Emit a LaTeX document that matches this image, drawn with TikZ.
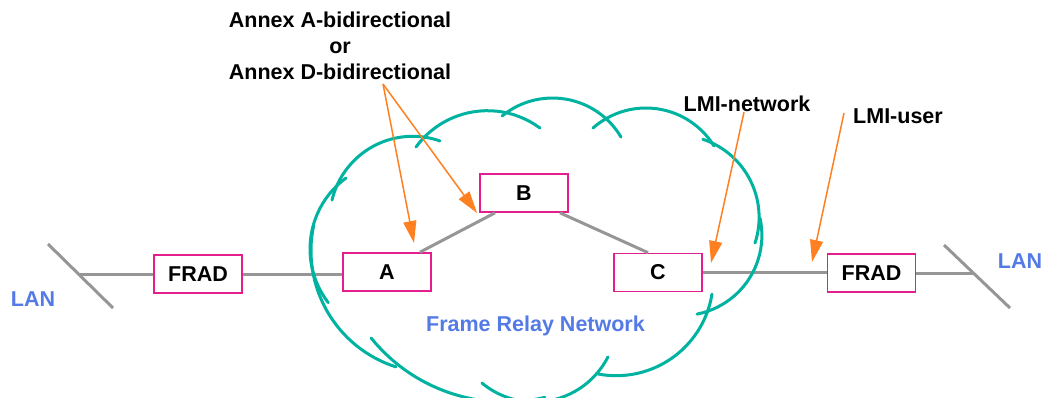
\documentclass[tikz,border=0pt]{standalone}
\usepackage{fontspec}
\setmainfont{Liberation Sans}
\usetikzlibrary{arrows.meta, positioning}
\definecolor{cloudteal}{RGB}{0,178,160}
\definecolor{boxpink}{RGB}{228,30,140}
\definecolor{annexorange}{RGB}{255,128,32}
\definecolor{wiregray}{RGB}{150,150,150}
\definecolor{lanblue}{RGB}{84,122,230}

\begin{document}
\begin{tikzpicture}[x=1pt, y=-1pt,
    every node/.style={font=\fontsize{21.5}{26}\selectfont\bfseries, inner sep=0pt},
    box/.style={draw=boxpink, line width=1.7pt, fill=white, minimum width=88pt, minimum height=38pt},
    wire/.style={draw=wiregray, line width=3pt},
    pointer/.style={draw=annexorange, line width=1.5pt, -{Triangle[length=22pt, width=13pt]}},
    cloudarc/.style={draw=cloudteal, line width=3pt, line cap=round},
    bluetext/.style={text=lanblue}]
    \useasboundingbox (0,0) rectangle (1044,398);
    \clip (0,0) rectangle (1044,398);

    % Draw the boxes
    \node[box] (fradL) at (198,274) {FRAD};
    \node[box] (A) at (387,272) {A};
    \node[box] (B) at (524,193) {B};
    \node[box] (C) at (658,272.5) {C};
    \node[box] (fradR) at (871.5,273) {FRAD};

    % Draw the LAN segments
    \coordinate (lanLtop) at (48,244);
    \coordinate (lanLbot) at (113,308);
    \coordinate (lanLj) at (78,274);
    \coordinate (lanRtop) at (944,245);
    \coordinate (lanRbot) at (1010,308);
    \coordinate (lanRj) at (973,273);
    \draw[wire] (lanLtop) -- (lanLbot);
    \draw[wire] (lanRtop) -- (lanRbot);
    \node[bluetext, anchor=base] (lanL) at (33,306.5) {LAN};
    \node[bluetext, anchor=base] (lanR) at (1020,268) {LAN};

    % Draw the wires between the boxes
    \draw[wire] (lanLj) -- (fradL.west);
    \draw[wire] (fradL.east) -- (fradL.east -| A.west);
    \draw[wire] ([xshift=33pt]A.north) -- ([xshift=-29pt]B.south);
    \draw[wire] ([xshift=36pt]B.south) -- ([xshift=-10pt]C.north);
    \draw[wire] (C.east) -- (C.east -| fradR.west);
    \draw[wire] (fradR.east) -- (lanRj);

    % Draw the cloud, one arc per lobe
    \draw[cloudarc] (398,249) ++(233.8:88) arc[start angle=233.8, end angle=142.4, radius=88];
    \draw[cloudarc] (412.6,219.1) ++(193.3:82.8) arc[start angle=193.3, end angle=289.3, radius=82.8];
    \draw[cloudarc] (487.4,199.1) ++(216.1:88.4) arc[start angle=216.1, end angle=306.5, radius=88.4];
    \draw[cloudarc] (552.5,177.6) ++(230.7:79.6) arc[start angle=230.7, end angle=329.4, radius=79.6];
    \draw[cloudarc] (645.9,188) ++(228.6:80) arc[start angle=228.6, end angle=328.3, radius=80];
    \draw[cloudarc] (676.7,217.4) ++(288.5:82.4) arc[start angle=288.5, end angle=378.1, radius=82.4];
    \draw[cloudarc] (681.6,235.3) ++(-12.4:80.3) arc[start angle=-12.4, end angle=78.9, radius=80.3];
    \draw[cloudarc] (616.2,278.7) ++(9.1:97) arc[start angle=9.1, end angle=100.8, radius=97];
    \draw[cloudarc] (534.5,319.6) ++(27:82.4) arc[start angle=27, end angle=129.6, radius=82.4];
    \draw[cloudarc] (505,230) ++(141.1:172) arc[start angle=141.1, end angle=76.6, radius=172];
    \draw[cloudarc] (433.1,250.6) ++(192:122.1) arc[start angle=192, end angle=107.7, radius=122.1];

    \node[bluetext, anchor=base] (frnet) at (535.5,331) {Frame Relay Network};

    % Draw the labels and their pointers
    \node[align=center] (annex) at (340,45.6) {Annex A-bidirectional\\or\\Annex D-bidirectional};
    \node[anchor=base] (lminet) at (747,111.7) {LMI-network};
    \node[anchor=base] (lmiuser) at (898,123.3) {LMI-user};

    \coordinate (annexfoot) at (383,84);
    \coordinate (tipA) at (414,243);
    \coordinate (tipB) at (477,213);
    \coordinate (tipC) at (711,263);
    \coordinate (tipFrad) at (812,262);
    \draw[pointer] (annexfoot) -- (tipA);
    \draw[pointer] (annexfoot) -- (tipB);
    \draw[pointer] ([xshift=-3pt]lminet.south) -- (tipC);
    \draw[pointer] ([xshift=-9pt, yshift=3pt]lmiuser.west) -- (tipFrad);
\end{tikzpicture}
\end{document}
